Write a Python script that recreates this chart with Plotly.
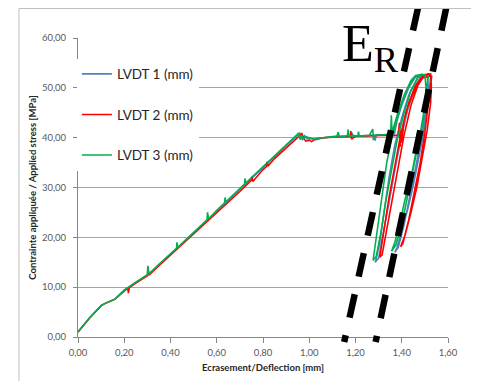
import plotly.graph_objects as go

# ---------------- data ----------------
# LVDT 1 (blue)
x1_rise = [0.000, 0.050, 0.100, 0.120, 0.160, 0.200, 0.250, 0.300, 0.350, 0.400, 0.450,
           0.500, 0.550, 0.600, 0.650, 0.700, 0.750, 0.800, 0.850, 0.900, 0.940, 0.958]
y1_rise = [1.0, 3.8, 6.3, 6.8, 7.6, 9.4, 10.9, 12.4, 14.5, 16.6, 18.7,
           20.9, 23.1, 25.2, 27.4, 29.6, 31.8, 34.0, 36.2, 38.3, 40.1, 40.9]
x1_plat = [0.965, 0.970, 0.980, 0.990, 1.010, 1.030, 1.060, 1.090, 1.120, 1.150, 1.180,
           1.185, 1.190, 1.220, 1.250, 1.280, 1.285, 1.290, 1.320, 1.340, 1.360, 1.368]
y1_plat = [40.6, 39.5, 40.4, 39.8, 39.8, 39.6, 40.0, 40.1, 40.2, 40.3, 40.3,
           41.0, 40.2, 40.3, 40.4, 40.5, 39.4, 40.6, 40.6, 40.5, 40.6, 40.7]
x1_loop = [1.380, 1.400, 1.430, 1.460, 1.490, 1.510,
           1.470, 1.430, 1.400, 1.370, 1.345, 1.325, 1.305, 1.290, 1.285,
           1.300, 1.320, 1.345, 1.370, 1.395, 1.425, 1.455, 1.485, 1.510,
           1.515, 1.510, 1.495, 1.475, 1.450, 1.425, 1.400, 1.380, 1.370,
           1.385, 1.410, 1.435, 1.460, 1.485, 1.505, 1.520, 1.525]
y1_loop = [43.5, 46.5, 50.0, 52.2, 52.6, 52.5,
           52.2, 48.5, 44.0, 38.5, 32.0, 25.0, 19.0, 15.8, 15.0,
           15.8, 20.5, 27.0, 33.5, 39.5, 45.5, 50.0, 52.5, 52.7,
           50.0, 46.0, 41.0, 36.0, 30.5, 25.5, 21.0, 18.0, 17.0,
           18.0, 22.5, 28.0, 34.0, 40.0, 45.5, 50.0, 52.5]

# LVDT 2 (red)
x2_rise = [0.000, 0.050, 0.100, 0.120, 0.160, 0.200, 0.215, 0.218, 0.222, 0.250,
           0.300, 0.303, 0.307, 0.350, 0.400, 0.450, 0.500, 0.550, 0.600, 0.650,
           0.700, 0.740, 0.750, 0.752, 0.756, 0.800, 0.815, 0.818, 0.822, 0.850,
           0.900, 0.940, 0.960, 0.968]
y2_rise = [1.0, 3.8, 6.3, 6.8, 7.6, 9.3, 9.8, 8.8, 9.9, 10.8,
           12.3, 14.0, 12.4, 14.3, 16.4, 18.5, 20.6, 22.8, 24.9, 27.0,
           29.2, 31.0, 31.5, 32.2, 31.2, 33.6, 34.2, 35.2, 34.3, 35.8,
           37.9, 39.7, 40.4, 40.8]
x2_plat = [0.975, 0.985, 1.000, 1.010, 1.030, 1.060, 1.090, 1.120, 1.150, 1.178,
           1.180, 1.183, 1.200, 1.230, 1.260, 1.290, 1.320, 1.350, 1.370, 1.385,
           1.390, 1.393, 1.396, 1.399]
y2_plat = [40.0, 39.3, 39.5, 39.2, 39.8, 40.0, 40.1, 40.2, 40.2, 40.2,
           41.3, 39.7, 40.3, 40.3, 40.4, 40.4, 40.5, 40.5, 40.4, 40.6,
           43.0, 38.2, 41.5, 39.0]
x2_loop = [1.410, 1.430, 1.460, 1.490, 1.515, 1.525,
           1.490, 1.460, 1.420, 1.395, 1.370, 1.345, 1.325, 1.310, 1.305,
           1.315, 1.335, 1.360, 1.385, 1.410, 1.440, 1.470, 1.500, 1.525,
           1.528, 1.525, 1.510, 1.490, 1.465, 1.440, 1.415, 1.395,
           1.405, 1.430, 1.455, 1.480, 1.500, 1.515, 1.525, 1.530]
y2_loop = [43.5, 47.0, 50.5, 52.3, 52.8, 52.4,
           52.0, 50.0, 45.5, 40.5, 34.5, 28.0, 22.0, 18.0, 16.0,
           16.5, 21.5, 28.0, 34.5, 40.5, 46.5, 50.5, 52.6, 52.8,
           50.5, 47.0, 41.5, 36.0, 30.0, 25.0, 20.5, 18.1,
           18.8, 23.5, 29.0, 35.0, 41.0, 46.5, 50.5, 52.5]

# LVDT 3 (green)
x3_rise = [0.000, 0.050, 0.100, 0.120, 0.160, 0.200, 0.250, 0.300, 0.302, 0.306,
           0.350, 0.400, 0.426, 0.428, 0.432, 0.450, 0.500, 0.550, 0.558, 0.560,
           0.565, 0.600, 0.634, 0.636, 0.640, 0.650, 0.700, 0.720, 0.722, 0.726,
           0.750, 0.800, 0.850, 0.900, 0.940, 0.952]
y3_rise = [1.0, 3.8, 6.3, 6.8, 7.6, 9.4, 11.0, 12.5, 14.3, 12.6,
           14.6, 16.7, 17.8, 19.0, 17.9, 18.8, 21.0, 23.2, 23.5, 25.0,
           23.7, 25.4, 26.9, 28.0, 27.1, 27.6, 29.8, 30.7, 31.8, 30.9,
           32.0, 34.2, 36.4, 38.5, 40.3, 40.8]
x3_plat = [0.962, 0.966, 0.975, 0.985, 1.000, 1.020, 1.040, 1.060, 1.080, 1.100,
           1.120, 1.125, 1.130, 1.150, 1.165, 1.168, 1.172, 1.190, 1.210, 1.213,
           1.216, 1.240, 1.260, 1.275, 1.277, 1.280, 1.300, 1.320, 1.340, 1.352,
           1.355, 1.358]
y3_plat = [39.6, 40.5, 39.8, 40.2, 40.0, 39.7, 39.9, 40.0, 40.1, 40.2,
           40.3, 41.1, 40.2, 40.3, 40.4, 41.6, 40.3, 40.4, 40.3, 41.2,
           40.3, 40.4, 40.5, 41.7, 39.5, 40.5, 40.5, 40.6, 40.7, 40.8,
           44.5, 41.0]
x3_loop = [1.380, 1.410, 1.440, 1.460, 1.490,
           1.456, 1.420, 1.390, 1.355, 1.335, 1.320, 1.300, 1.285, 1.276,
           1.290, 1.310, 1.330, 1.355, 1.380, 1.410, 1.440, 1.475, 1.500,
           1.505, 1.500, 1.490, 1.463, 1.440, 1.413, 1.390, 1.370, 1.356,
           1.375, 1.400, 1.425, 1.450, 1.475, 1.495, 1.510, 1.515]
y3_loop = [44.5, 48.5, 51.5, 52.5, 52.7,
           52.3, 49.5, 45.5, 39.5, 35.0, 30.0, 23.0, 18.0, 15.4,
           16.2, 21.0, 27.0, 33.5, 39.5, 45.0, 49.5, 52.5, 52.7,
           50.0, 46.0, 42.5, 37.5, 32.0, 27.4, 22.5, 19.0, 17.2,
           18.5, 22.5, 28.0, 33.5, 39.5, 45.0, 50.0, 52.5]

series_names = ["LVDT 1 (mm)", "LVDT 2 (mm)", "LVDT 3 (mm)"]
series_colors = ["#4F81BD", "#FF0000", "#00B050"]

x_ticks = [0.0, 0.2, 0.4, 0.6, 0.8, 1.0, 1.2, 1.4, 1.6]
y_ticks = [0, 10, 20, 30, 40, 50, 60]

# the two dashed guide lines of E_R, in data units (top point, bottom point)
guide_left = [(1.471, 66.2), (1.151, -1.0)]
guide_right = [(1.593, 66.2), (1.287, -1.0)]

X_RANGE = [0.0, 1.6]
Y_RANGE = [0.0, 60.0]

series_x = [x1_rise + x1_plat + x1_loop, x2_rise + x2_plat + x2_loop, x3_rise + x3_plat + x3_loop]
series_y = [y1_rise + y1_plat + y1_loop, y2_rise + y2_plat + y2_loop, y3_rise + y3_plat + y3_loop]
for xs, ys in zip(series_x, series_y):
    assert len(xs) == len(ys)

fig = go.Figure()
for i, (name, col) in enumerate(zip(series_names, series_colors)):
    fig.add_trace(go.Scatter(
        x=series_x[i], y=series_y[i], mode="lines", name=name,
        line=dict(color=col, width=1.6), legendgroup=f"g{i}",
    ))


def to_paper(pt):
    x, y = pt
    return ((x - X_RANGE[0]) / (X_RANGE[1] - X_RANGE[0]),
            (y - Y_RANGE[0]) / (Y_RANGE[1] - Y_RANGE[0]))


for g in (guide_left, guide_right):
    (px0, py0), (px1, py1) = to_paper(g[0]), to_paper(g[1])
    fig.add_shape(type="line", xref="paper", yref="paper",
                  x0=px0, y0=py0, x1=px1, y1=py1,
                  line=dict(color="black", width=6.5, dash="24px,18px"), layer="above")

# chart frame (light grey border at top/left of the picture)
FRAME_X = -0.1595
FRAME_Y = 1.0987
fig.add_shape(type="line", xref="paper", yref="paper", x0=FRAME_X, x1=FRAME_X, y0=-0.3, y1=FRAME_Y,
              line=dict(color="#BFBFBF", width=1))
fig.add_shape(type="line", xref="paper", yref="paper", x0=FRAME_X, x1=1.2, y0=FRAME_Y, y1=FRAME_Y,
              line=dict(color="#BFBFBF", width=1))

fig.add_annotation(x=1.133, y=58.0, xref="x", yref="y", text="E<sub>R</sub>",
                   showarrow=False, xanchor="left", yanchor="middle",
                   font=dict(family="Liberation Serif", size=52, color="black"))

FONT = "Lato, Liberation Sans"
tickfont = dict(family=FONT, size=9.5, color="#595959")
titlefont = dict(family=FONT, size=9.5, color="#262626")

fig.update_layout(
    width=471, height=373,
    margin=dict(l=70, r=31, t=30, b=44, autoexpand=False),
    paper_bgcolor="white", plot_bgcolor="white",
    separators=", ",
    showlegend=True,
    legend=dict(x=-0.003, y=0.931, xanchor="left", yanchor="top", bgcolor="white",
                font=dict(family=FONT, size=13.5, color="#262626"),
                tracegroupgap=20),
    xaxis=dict(range=X_RANGE, tickvals=x_ticks, tickformat=".2f", showgrid=False, zeroline=False,
               showline=True, linecolor="#868686", linewidth=1, ticks="outside", ticklen=5,
               tickcolor="#868686", tickfont=tickfont, ticklabelstandoff=2, automargin=False,
               title=dict(text="<b>Ecrasement/Deflection [mm]</b>", font=titlefont, standoff=6)),
    yaxis=dict(range=Y_RANGE, tickvals=y_ticks, tickformat=".2f", showgrid=True, gridcolor="#A6A6A6",
               gridwidth=1, zeroline=False, showline=True, linecolor="#868686", linewidth=1,
               ticks="outside", ticklen=4, tickcolor="#868686", tickfont=tickfont,
               ticklabelstandoff=5, automargin=False,
               title=dict(text="<b>Contrainte appliquée / Applied stress [MPa]</b>", font=titlefont, standoff=3)),
)

fig.write_html("out.html")
